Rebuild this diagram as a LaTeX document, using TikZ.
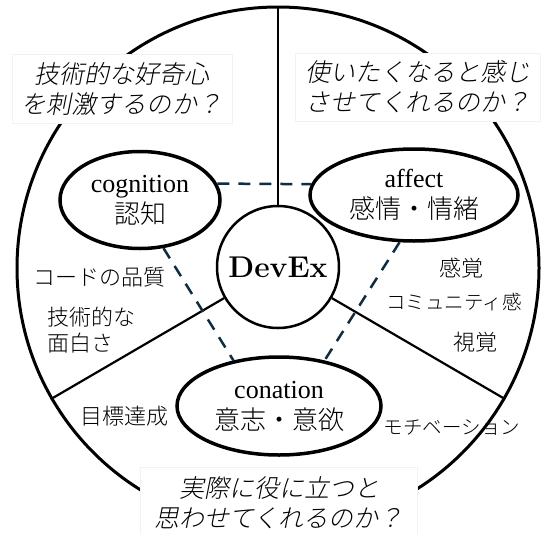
\documentclass[tikz,border=0pt]{standalone}
\usepackage{fontspec}
\usetikzlibrary{shapes.geometric}
\newfontfamily\tms{Liberation Serif}
\IfFontExistsTF{ipaexm.ttf}{%
  \newfontfamily\mincho{ipaexm.ttf}%
  \newfontfamily\minchoit{ipaexm.ttf}[FakeSlant=0.2]%
}{%
  \IfFontExistsTF{Noto Sans CJK JP Light}{%
    \newfontfamily\mincho{Noto Sans CJK JP Light}%
    \newfontfamily\minchoit{Noto Sans CJK JP Light}[FakeSlant=0.2]%
  }{%
    \newfontfamily\mincho{Noto Sans CJK JP}%
    \newfontfamily\minchoit{Noto Sans CJK JP}[FakeSlant=0.2]%
  }%
}
\definecolor{dashcol}{RGB}{15,45,65}
\tikzset{
 outerring/.style={circle, draw, line width=3pt, minimum size=522pt, inner sep=0pt},
 core/.style={circle, draw, line width=2.5pt, minimum size=122pt, inner sep=0pt, fill=white, font=\bfseries\fontsize{30}{30}\selectfont},
 facet/.style={ellipse, draw, line width=3.5pt, inner sep=0pt, fill=white, align=center, font=\fontsize{26}{31}\selectfont},
 spoke/.style={line width=2.2pt},
 link/.style={draw=dashcol, line width=2.5pt, dash pattern=on 12pt off 9pt},
 qbox/.style={fill=white, draw=black!5, line width=0.6pt, align=center, inner sep=0pt, font=\minchoit\fontsize{25}{30}\selectfont},
 lbl/.style={inner sep=0pt, font=\mincho\fontsize{22}{26}\selectfont},
 lblsm/.style={inner sep=0pt, font=\mincho\fontsize{19.5}{24}\selectfont},
}
\begin{document}
\begin{tikzpicture}[x=1pt, y=-1pt]
\useasboundingbox (0,0) rectangle (543,533);
\fill[white] (0,0) rectangle (543,533);
% outer ring and centre
\node[outerring] (outer) at (278,268) {};
\node[core] (dev) at (278,267) {DevEx};
\draw[spoke] (dev.90) -- (outer.90);
\draw[spoke] (dev.210) -- (outer.210);
\draw[spoke] (dev.330) -- (outer.330);
% facets
\node[facet, minimum width=160pt, minimum height=97pt] (cog) at (140,200) {{\tms cognition}\\{\mincho 認知}};
\node[facet, minimum width=208pt, minimum height=92pt] (aff) at (414,195) {{\tms affect}\\{\mincho 感情・情緒}};
\node[facet, minimum width=204pt, minimum height=98pt] (con) at (279,406) {{\tms conation}\\{\mincho 意志・意欲}};
% dashed links
\draw[link] (cog.12) -- (aff.174);
\draw[link] (cog.-64) -- (con.135);
\draw[link] (aff.253) -- (con.45);
% labels
\node[lbl] (l1) at (99,277) {コードの品質};
\node[lbl, anchor=west, align=left] (l2) at (47,330) {技術的な\\面白さ};
\node[lbl] (l3) at (461,268) {感覚};
\node[lblsm] (l4) at (454,302) {コミュニティ感};
\node[lbl] (l5) at (475,342) {視覚};
\node[lbl] (l6) at (124,416) {目標達成};
\node[lblsm] (l7) at (452,428) {モチベーション};
% question boxes
\node[qbox, minimum width=220pt, minimum height=69pt] (q1) at (122,89) {技術的な好奇心\\を刺激するのか？};
\node[qbox, minimum width=245pt, minimum height=68pt] (q2) at (418,87) {使いたくなると感じ\\させてくれるのか？};
\node[qbox, minimum width=277pt, minimum height=72pt] (q3) at (279,503) {実際に役に立つと\\思わせてくれるのか？};
\end{tikzpicture}
\end{document}
